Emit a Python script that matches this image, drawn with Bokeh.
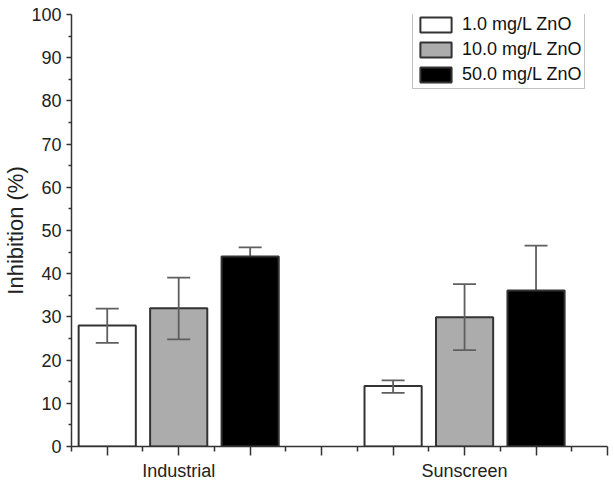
from bokeh.plotting import figure
from bokeh.models import (ColumnDataSource, Range1d, FixedTicker, Whisker, TeeHead,
                          Legend, LegendItem)
from bokeh.embed import file_html
from bokeh.resources import INLINE

# ---- data ----
groups = ["Industrial", "Sunscreen"]
series = ["1.0 mg/L ZnO", "10.0 mg/L ZnO", "50.0 mg/L ZnO"]
industrial = [28.0, 32.0, 44.0]
industrial_err_low = [24.0, 24.8, 42.0]
industrial_err_high = [31.9, 39.1, 46.1]
sunscreen = [14.0, 29.9, 36.1]
sunscreen_err_low = [12.4, 22.3, 25.7]
sunscreen_err_high = [15.3, 37.6, 46.5]
fills = ["#ffffff", "#acacac", "#000000"]

# slot positions: group 1 at 1..3, gap at 4, group 2 at 5..7
group_pos = {"Industrial": [1, 2, 3], "Sunscreen": [5, 6, 7]}

p = figure(frame_width=536, frame_height=432, output_backend="svg", toolbar_location=None,
           x_range=Range1d(0.5, 8.0), y_range=Range1d(0, 100),
           min_border_left=64, min_border_right=4, min_border_top=14,
           min_border_bottom=20)
p.outline_line_color = None
p.grid.visible = False
p.background_fill_color = "white"

renderers = []
for i, name in enumerate(series):
    xs = [group_pos["Industrial"][i], group_pos["Sunscreen"][i]]
    tops = [industrial[i], sunscreen[i]]
    lows = [industrial_err_low[i], sunscreen_err_low[i]]
    highs = [industrial_err_high[i], sunscreen_err_high[i]]
    src = ColumnDataSource(dict(x=xs, top=tops, lower=lows, upper=highs))
    r = p.vbar(x="x", top="top", width=0.8, source=src, fill_color=fills[i],
               line_color="#333333", line_width=2)
    renderers.append(r)
    w = Whisker(base="x", lower="lower", upper="upper", source=src,
                line_color="#5f5f5f", line_width=1.8,
                upper_head=TeeHead(size=23, line_color="#5f5f5f", line_width=1.8),
                lower_head=TeeHead(size=23, line_color="#5f5f5f", line_width=1.8),
                level=("underlay" if i == 2 else "annotation"))
    p.add_layout(w)

# axes
p.xaxis.ticker = FixedTicker(ticks=[1, 2, 3, 4, 5, 6, 7, 8],
                             minor_ticks=[0.5, 1.5, 2.5, 3.5, 4.5, 5.5, 6.5, 7.5])
p.xaxis.major_label_overrides = {1: "", 2: "Industrial", 3: "", 4: "", 5: "",
                                 6: "Sunscreen", 7: "", 8: ""}
p.yaxis.ticker = FixedTicker(ticks=list(range(0, 101, 10)),
                             minor_ticks=list(range(5, 100, 10)))
p.yaxis.axis_label = "Inhibition (%)"

for ax in (p.xaxis[0], p.yaxis[0]):
    ax.axis_line_color = "#333333"
    ax.axis_line_width = 1.5
    ax.major_tick_line_color = "#333333"
    ax.minor_tick_line_color = "#333333"
    ax.major_tick_line_width = 1.5
    ax.minor_tick_line_width = 1.5
    ax.major_label_text_font = "Liberation Sans"
    ax.major_label_text_font_size = "18px"
    ax.major_label_text_color = "#222222"
    ax.major_tick_in = 0
    ax.minor_tick_in = 0

p.xaxis.major_tick_out = 9
p.xaxis.minor_tick_out = 5
p.xaxis.major_label_standoff = 5
p.yaxis.major_tick_out = 5
p.yaxis.minor_tick_out = 3
p.yaxis.major_label_standoff = 5
p.yaxis.axis_label_text_font = "Liberation Sans"
p.yaxis.axis_label_text_font_size = "22px"
p.yaxis.axis_label_text_font_style = "normal"
p.yaxis.axis_label_text_color = "#222222"
p.yaxis.axis_label_standoff = 0

legend = Legend(items=[LegendItem(label=s, renderers=[r]) for s, r in zip(series, renderers)],
                location=(341, 357), margin=0, padding=3, spacing=4,
                glyph_width=39, glyph_height=19, label_standoff=7,
                label_text_font="Liberation Sans", label_text_font_size="18px",
                label_text_color="#111111", label_height=19, label_width=112,
                label_text_line_height=1.0,
                border_line_color="#888888", border_line_width=1.5,
                background_fill_color="white")
p.add_layout(legend)

open("out.html", "w").write(file_html(p, INLINE))
